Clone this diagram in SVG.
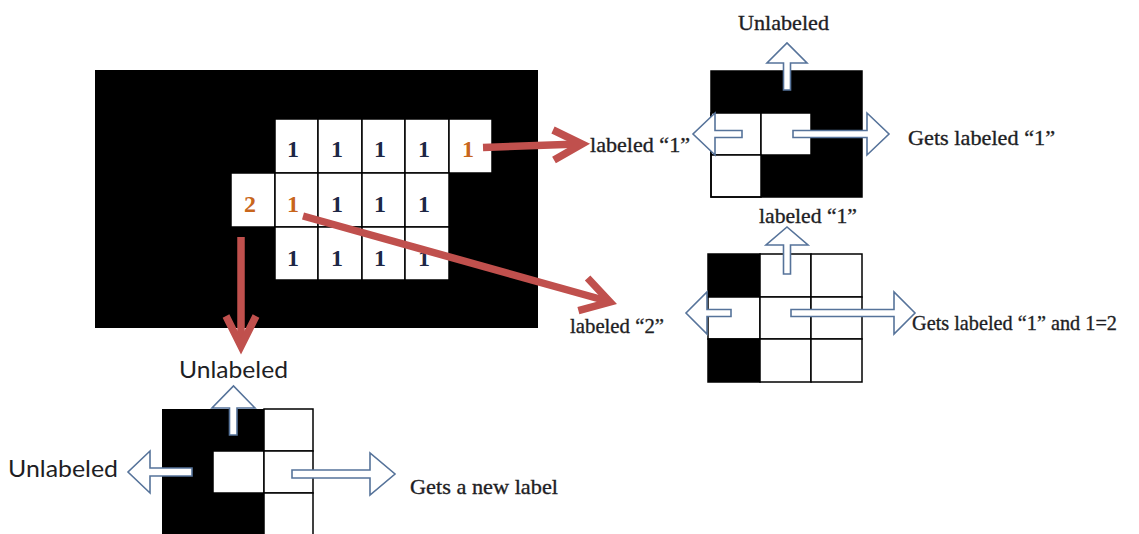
<svg xmlns="http://www.w3.org/2000/svg" width="1139" height="534" viewBox="0 0 1139 534">
  <style>
    .bg { fill: #ffffff; }
    .blk { fill: #000000; }
    .cell { fill: #ffffff; stroke: #000000; stroke-width: 1.5; }
    .frame { fill: none; stroke: #000000; stroke-width: 1.5; }
    .num { font-family: "Liberation Serif", "DejaVu Serif", serif; font-size: 24px; font-weight: bold; text-anchor: middle; fill: #1d2745; }
    .num.hot { fill: #c8661c; }
    .serif { font-family: "Liberation Serif", "DejaVu Serif", serif; font-size: 22px; fill: #1e1e24; stroke: #1e1e24; stroke-width: 0.35; }
    .sans { font-family: Lato, "Open Sans", "Liberation Sans", sans-serif; font-size: 24px; fill: #1e1e24; }
    .block { fill: #ffffff; stroke: #56739a; stroke-width: 1.6; stroke-linejoin: miter; }
    .red { fill: none; stroke: #c0504d; stroke-width: 7.5; stroke-linecap: butt; stroke-linejoin: miter; }
  </style>

  <rect class="bg" x="0" y="0" width="1139" height="534"/>

  <!-- labelled image -->
  <g id="image">
    <rect class="blk" x="95" y="70" width="443" height="258"/>
    <g id="row1">
      <rect class="cell" x="275" y="119" width="43" height="54"/>
      <rect class="cell" x="318" y="119" width="44" height="54"/>
      <rect class="cell" x="362" y="119" width="43" height="54"/>
      <rect class="cell" x="405" y="119" width="44" height="54"/>
      <rect class="cell" x="449" y="119" width="43" height="54"/>
      <text class="num" x="293" y="157">1</text>
      <text class="num" x="337" y="157">1</text>
      <text class="num" x="380" y="157">1</text>
      <text class="num" x="424" y="157">1</text>
      <text class="num hot" x="468" y="157">1</text>
    </g>
    <g id="row2">
      <rect class="cell" x="231" y="173" width="44" height="54"/>
      <rect class="cell" x="275" y="173" width="43" height="54"/>
      <rect class="cell" x="318" y="173" width="44" height="54"/>
      <rect class="cell" x="362" y="173" width="43" height="54"/>
      <rect class="cell" x="405" y="173" width="44" height="54"/>
      <text class="num hot" x="250" y="212">2</text>
      <text class="num hot" x="293" y="212">1</text>
      <text class="num" x="337" y="212">1</text>
      <text class="num" x="380" y="212">1</text>
      <text class="num" x="424" y="212">1</text>
    </g>
    <g id="row3">
      <rect class="cell" x="275" y="227" width="43" height="53"/>
      <rect class="cell" x="318" y="227" width="44" height="53"/>
      <rect class="cell" x="362" y="227" width="43" height="53"/>
      <rect class="cell" x="405" y="227" width="44" height="53"/>
      <text class="num" x="293" y="266">1</text>
      <text class="num" x="337" y="266">1</text>
      <text class="num" x="380" y="266">1</text>
      <text class="num" x="424" y="266">1</text>
    </g>
  </g>

  <!-- connectors -->
  <g id="connectors">
    <path class="red" d="M483,147.5 L579,144"/>
    <path class="red" d="M553,130 L582,144 L554,160"/>
    <path class="red" d="M303,216 L607,301"/>
    <path class="red" d="M587.6,278 L610,302 L578.4,310.7"/>
    <path class="red" d="M241,237 L241,344"/>
    <path class="red" d="M226,316 L241,346 L256,316"/>
  </g>

  <!-- neighbourhood: top right -->
  <g id="case-top">
    <rect class="blk" x="711" y="71" width="151" height="126"/>
    <rect class="cell" x="711" y="113" width="50" height="42"/>
    <rect class="cell" x="761" y="113" width="50" height="42"/>
    <rect class="cell" x="711" y="155" width="50" height="42"/>
    <rect class="frame" x="711" y="71" width="151" height="126"/>
    <path class="block" d="M783.5,90 V63 H767 L787,43 L807,63 H790.5 V90 Z"/>
    <path class="block" d="M742,130.5 H715 V113 L693,134 L715,155 V137.5 H742 Z"/>
    <path class="block" d="M793,130.5 H867 V113 L889,134 L867,155 V137.5 H793 Z"/>
    <text class="serif" x="738" y="30" textLength="91" lengthAdjust="spacingAndGlyphs">Unlabeled</text>
    <text class="serif" x="590" y="152" textLength="100" lengthAdjust="spacingAndGlyphs">labeled “1”</text>
    <text class="serif" x="908" y="145" textLength="147" lengthAdjust="spacingAndGlyphs">Gets labeled “1”</text>
  </g>

  <!-- neighbourhood: middle right -->
  <g id="case-middle">
    <rect class="cell" x="708" y="254" width="52" height="43"/>
    <rect class="cell" x="760" y="254" width="51" height="43"/>
    <rect class="cell" x="811" y="254" width="51" height="43"/>
    <rect class="cell" x="708" y="297" width="52" height="42"/>
    <rect class="cell" x="760" y="297" width="51" height="42"/>
    <rect class="cell" x="811" y="297" width="51" height="42"/>
    <rect class="cell" x="708" y="339" width="52" height="43"/>
    <rect class="cell" x="760" y="339" width="51" height="43"/>
    <rect class="cell" x="811" y="339" width="51" height="43"/>
    <rect class="blk" x="708" y="254" width="52" height="43"/>
    <rect class="blk" x="708" y="339" width="52" height="43"/>
    <path class="block" d="M783.5,274 V245 H766 L787,227 L808,245 H790.5 V274 Z"/>
    <path class="block" d="M731,309.5 H707 V292 L686,313 L707,334 V316.5 H731 Z"/>
    <path class="block" d="M791,309.5 H894 V292 L915,313 L894,334 V316.5 H791 Z"/>
    <text class="serif" x="759" y="223" textLength="98" lengthAdjust="spacingAndGlyphs">labeled “1”</text>
    <text class="serif" x="570" y="333" textLength="94" lengthAdjust="spacingAndGlyphs">labeled “2”</text>
    <text class="serif" x="912" y="330" textLength="205" lengthAdjust="spacingAndGlyphs">Gets labeled “1” and 1=2</text>
  </g>

  <!-- neighbourhood: bottom left -->
  <g id="case-bottom">
    <rect class="blk" x="162" y="409" width="102" height="126"/>
    <rect class="cell" x="213" y="451" width="51" height="42"/>
    <rect class="cell" x="264" y="409" width="49" height="42"/>
    <rect class="cell" x="264" y="451" width="49" height="42"/>
    <rect class="cell" x="264" y="493" width="49" height="42"/>
    <path class="block" d="M229.5,435 V408 H212 L233.5,386 L255,408 H237 V435 Z"/>
    <path class="block" d="M192,468 H150 V451 L128,472 L150,493 V476 H192 Z"/>
    <path class="block" d="M292,470 H370 V453 L395,474 L370,495 V478 H292 Z"/>
    <text class="sans" x="179" y="378" textLength="109" lengthAdjust="spacingAndGlyphs">Unlabeled</text>
    <text class="sans" x="8" y="477" textLength="110" lengthAdjust="spacingAndGlyphs">Unlabeled</text>
    <text class="serif" x="410" y="494" textLength="148" lengthAdjust="spacingAndGlyphs">Gets a new label</text>
  </g>
</svg>
